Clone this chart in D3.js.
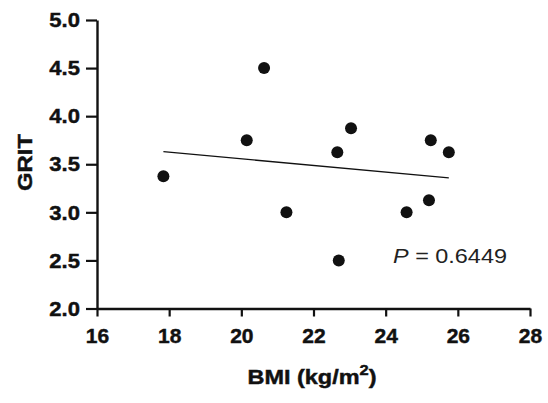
<!DOCTYPE html>
<html>
<head>
<meta charset="utf-8">
<script src="https://cdn.jsdelivr.net/npm/d3@7"></script>
<style>
  html, body { margin: 0; padding: 0; background: #fff; }
  svg { display: block; font-family: "Liberation Sans", Arial, Helvetica, sans-serif; }
</style>
</head>
<body>
<svg id="chart" width="548" height="403"></svg>
<script>
// Participants: body-mass index and grit score
const bmi  = [17.84, 20.15, 20.63, 21.25, 22.66, 22.70, 23.04, 24.58, 25.20, 25.25, 25.75];
const grit = [3.375, 3.75, 4.5, 3.0, 3.625, 2.5, 3.875, 3.0, 3.125, 3.75, 3.625];

const xTicks = [16, 18, 20, 22, 24, 26, 28];
const yTicks = [2.0, 2.5, 3.0, 3.5, 4.0, 4.5, 5.0];
const pLabel = "0.6449";

const svg = d3.select("#chart");
const ink = "#111";

const x = d3.scaleLinear().domain([16, 28]).range([97, 530]);
const y = d3.scaleLinear().domain([2, 5]).range([308.5, 20]);

// Factor that widens a text node to a given run length
function widen(sel, target, vertical) {
  const bb = sel.node().getBBox();
  return target / (vertical ? bb.height : bb.width);
}

// Heavier bold face: a thin outline in the fill colour
function heavy(sel) {
  return sel.attr("stroke", ink).attr("stroke-width", 0.45).attr("paint-order", "stroke");
}

// Y axis
const yAxis = svg.append("g")
  .attr("transform", `translate(${x(16)},0)`)
  .call(d3.axisLeft(y).tickValues(yTicks).tickFormat(d3.format(".1f"))
        .tickSize(11).tickSizeOuter(0).tickPadding(6));

// X axis
const xAxis = svg.append("g")
  .attr("transform", `translate(0,${y(2)})`)
  .call(d3.axisBottom(x).tickValues(xTicks).tickFormat(d3.format("d"))
        .tickSize(8).tickSizeOuter(0).tickPadding(12));

[yAxis, xAxis].forEach(g => {
  g.select(".domain").attr("stroke", ink).attr("stroke-width", 2.4);
  g.selectAll(".tick line").attr("stroke", ink).attr("stroke-width", 2.2);
  g.selectAll(".tick text")
    .attr("fill", ink)
    .attr("font-size", 21)
    .attr("font-weight", "bold")
    .attr("font-family", "'Liberation Sans', Arial, sans-serif")
    .call(heavy);
});

// Slightly broader numerals on the value axis, anchored at their right edge
yAxis.selectAll(".tick text").each(function () {
  const t = d3.select(this);
  const x0 = +t.attr("x");
  t.attr("x", 0).attr("transform", `translate(${x0},0) scale(1.05,1)`);
});

// Least-squares fit over the observed range
const mx = d3.mean(bmi), my = d3.mean(grit);
const sxy = d3.sum(bmi, (v, i) => (v - mx) * (grit[i] - my));
const sxx = d3.sum(bmi, v => (v - mx) * (v - mx));
const slope = sxy / sxx;
const intercept = my - slope * mx;
const [xa, xb] = d3.extent(bmi);

svg.append("line")
  .attr("x1", x(xa)).attr("y1", y(intercept + slope * xa))
  .attr("x2", x(xb)).attr("y2", y(intercept + slope * xb))
  .attr("stroke", ink).attr("stroke-width", 1.3);

// Points
svg.append("g").selectAll("circle")
  .data(bmi.map((v, i) => ({ bmi: v, grit: grit[i] })))
  .join("circle")
  .attr("cx", d => x(d.bmi))
  .attr("cy", d => y(d.grit))
  .attr("r", 6)
  .attr("fill", ink);

// Axis titles
const xTitleG = svg.append("g");
const xTitle = xTitleG.append("text")
  .attr("text-anchor", "middle")
  .attr("font-size", 20)
  .attr("font-weight", "bold")
  .attr("fill", ink)
  .call(heavy);
xTitle.append("tspan").text("BMI (kg/m");
xTitle.append("tspan").attr("font-size", 14).attr("dy", -9).text("2");
xTitle.append("tspan").attr("dy", 9).text(")");
const sx = widen(xTitle, 129);
xTitleG.attr("transform", `translate(312,383.5) scale(${sx},1)`);

const yTitleG = svg.append("g");
const yTitle = yTitleG.append("text")
  .attr("text-anchor", "middle")
  .attr("font-size", 20)
  .attr("font-weight", "bold")
  .attr("fill", ink)
  .call(heavy)
  .text("GRIT");
const sy = widen(yTitle, 57);
yTitleG.attr("transform", `translate(31.5,162.5) rotate(-90) scale(${sy},1)`);

// P-value annotation
const pG = svg.append("g");
const pText = pG.append("text")
  .attr("font-size", 20)
  .attr("fill", "#222");
pText.append("tspan").attr("font-style", "italic").text("P");
pText.append("tspan").text(" = " + pLabel);
const sp = widen(pText, 114);
pG.attr("transform", `translate(393,263) scale(${sp},1)`);
</script>
</body>
</html>
